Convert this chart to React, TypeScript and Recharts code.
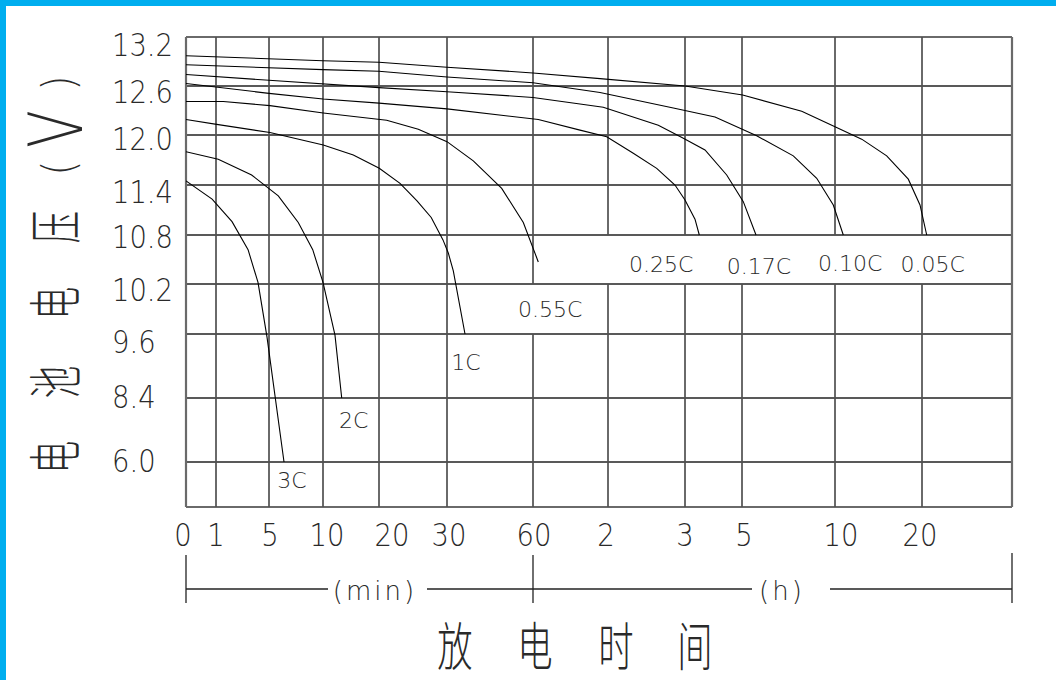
import React from "react";
import { LineChart, Line, XAxis, YAxis, ReferenceLine, LabelList } from "recharts";

// x: discharge time in minutes (0..60 min, then 2h..20h), y: battery voltage (V)
const X_TICKS = [0, 1, 5, 10, 20, 30, 60, 120, 180, 300, 600, 1200];
const X_LABELS = ["0", "1", "5", "10", "20", "30", "60", "2", "3", "5", "10", "20"];
const X_END = 2400;

const Y_TICKS = [13.2, 12.6, 12.0, 11.4, 10.8, 10.2, 9.6, 8.4, 6.0];
const Y_LABELS = ["13.2", "12.6", "12.0", "11.4", "10.8", "10.2", "9.6", "8.4", "6.0"];
const Y_END = 4.3;

const curve3C: [number, number][] = [
  [0, 11.45], [0.87, 11.23], [2.21, 10.96], [3.42, 10.62], [4.17, 10.22], [4.85, 9.54], [6.39, 6.0],
];
const curve2C: [number, number][] = [
  [0, 11.8], [1.17, 11.71], [3.69, 11.52], [5.86, 11.27], [7.71, 10.95], [9.05, 10.62],
  [10.0, 10.22], [12.14, 9.58], [13.34, 8.4],
];
const curve1C: [number, number][] = [
  [0, 12.19], [1.05, 12.13], [5.09, 12.03], [10.05, 11.88], [15.41, 11.76], [20.04, 11.6],
  [23.09, 11.42], [25.59, 11.21], [27.68, 11.01], [29.41, 10.74], [30.45, 10.58], [32.2, 10.36],
  [36.28, 9.6],
];
const curve055C: [number, number][] = [
  [0, 12.41], [1.55, 12.41], [5.09, 12.36], [10.05, 12.27], [21.13, 12.18], [25.78, 12.07],
  [30, 11.92], [39.17, 11.69], [49.08, 11.36], [56.62, 10.95], [64.24, 10.47],
];
const curve025C: [number, number][] = [
  [0, 12.63], [5, 12.51], [10, 12.44], [20, 12.39], [30, 12.32], [64.24, 12.19], [97.6, 12.06],
  [118.96, 11.98], [139.7, 11.78], [157.95, 11.6], [172.2, 11.4], [180, 11.22], [201.05, 10.99],
  [210.1, 10.8],
];
const curve017C: [number, number][] = [
  [0, 12.74], [5, 12.67], [20, 12.58], [30, 12.53], [60, 12.46], [97.6, 12.38], [116.2, 12.34],
  [159.2, 12.12], [178.7, 11.96], [222.1, 11.82], [267.8, 11.52], [304.2, 11.2], [345.2, 10.8],
];
const curve010C: [number, number][] = [
  [0, 12.86], [10, 12.8], [20, 12.78], [30, 12.71], [60, 12.64], [113.6, 12.52], [170.9, 12.33],
  [243.2, 12.22], [347.4, 11.99], [465.5, 11.75], [541, 11.48], [594.5, 11.16], [657.2, 10.8],
];
const curve005C: [number, number][] = [
  [0, 12.97], [10, 12.91], [20, 12.89], [30, 12.83], [60, 12.76], [113.6, 12.69], [180, 12.6],
  [302, 12.49], [492.6, 12.29], [600, 12.1], [784.1, 11.95], [956.6, 11.75], [1105.5, 11.47],
  [1186.2, 11.16], [1262.7, 10.8],
];

// grid lines that are broken where the curve labels sit
const GRID_GAPS = [
  { t: 60, from: 10.2, to: 9.6 },
  { t: 120, from: 10.8, to: 10.2 },
  { t: 180, from: 10.8, to: 10.2 },
  { t: 300, from: 10.8, to: 10.2 },
  { t: 600, from: 10.8, to: 10.2 },
  { t: 1200, from: 10.8, to: 10.2 },
];

// axis layout: pixel offset of each grid line inside the plot
const PLOT_W = 826;
const PLOT_H = 470;
const X_GRID_PX = [0, 30, 83, 137, 193, 261, 347, 422, 499, 556, 649, 736, PLOT_W];
const Y_GRID_PX = [0, 49, 98, 148, 198, 247, 297, 361, 425, PLOT_H];
const X_LABEL_DX = [-3, 0, 1, 4, 13, 2, 1, -2, 0, 2, 6, -2];
const Y_LABEL_DY = [7.5, 5, 3.5, 6, 1.5, 5, 7, -2, -2];

const warp = (v: number, from: number[], to: number[]) => {
  for (let i = 0; i < from.length - 1; i++) {
    const a = from[i];
    const b = from[i + 1];
    if ((v - a) * (v - b) <= 0) return to[i] + ((v - a) / (b - a)) * (to[i + 1] - to[i]);
  }
  return to[to.length - 1];
};
const xPos = (t: number) => warp(t, [...X_TICKS, X_END], X_GRID_PX);
const yPos = (v: number) => warp(v, [...Y_TICKS, Y_END], Y_GRID_PX);

const SERIES = [
  { name: "3C", data: curve3C, dx: 8, dy: 26 },
  { name: "2C", data: curve2C, dx: 12, dy: 30 },
  { name: "1C", data: curve1C, dx: 1, dy: 36 },
  { name: "0.55C", data: curve055C, dx: 12, dy: 55 },
  { name: "0.25C", data: curve025C, dx: -38, dy: 37 },
  { name: "0.17C", data: curve017C, dx: 3, dy: 39 },
  { name: "0.10C", data: curve010C, dx: 7, dy: 36 },
  { name: "0.05C", data: curve005C, dx: 6, dy: 37 },
].map((s) => ({ ...s, points: s.data.map(([t, v]) => ({ x: xPos(t), y: yPos(v) })) }));

const NUM_FONT = '"DejaVu Sans", "Liberation Sans", sans-serif';
const CJK_FONT = '"Noto Sans CJK SC", sans-serif';
const INK = "#2a2a2a";

const xTickPos = X_TICKS.map(xPos);
const yTickPos = Y_TICKS.map(yPos);
const nearest = (arr: number[], v: number) => {
  let best = 0;
  arr.forEach((a, i) => {
    if (Math.abs(a - v) < Math.abs(arr[best] - v)) best = i;
  });
  return best;
};

const XTick = (p: any) => {
  const i = nearest(xTickPos, Number(p.payload?.value));
  return (
    <text
      transform={`translate(${Number(p.x) + X_LABEL_DX[i]} 546) scale(0.87 1)`}
      textAnchor="middle"
      fontFamily={NUM_FONT}
      fontWeight={200}
      fontSize={31.5}
      fill={INK}
    >
      {X_LABELS[i]}
    </text>
  );
};

const YTick = (p: any) => {
  const i = nearest(yTickPos, Number(p.payload?.value));
  return (
    <text
      transform={`translate(112 ${Number(p.y) + Y_LABEL_DY[i] + 11.5}) scale(0.87 1)`}
      textAnchor="start"
      fontFamily={NUM_FONT}
      fontWeight={200}
      fontSize={31.5}
      fill={INK}
    >
      {Y_LABELS[i]}
    </text>
  );
};

const Y_TITLE = [
  { ch: "电", c: 457, fs: 54, sx: 0.6, base: 0.38, cx: 55 },
  { ch: "池", c: 382, fs: 54, sx: 0.6, base: 0.38, cx: 55 },
  { ch: "电", c: 303, fs: 54, sx: 0.6, base: 0.38, cx: 55 },
  { ch: "压", c: 227, fs: 54, sx: 0.6, base: 0.38, cx: 55 },
  { ch: "(", c: 168, fs: 44, sx: 0.9, base: 0.315, cx: 60 },
  { ch: "V", c: 129, fs: 74, sx: 0.75, base: 0.365, cx: 55 },
  { ch: ")", c: 83, fs: 44, sx: 0.9, base: 0.315, cx: 60 },
];
const X_TITLE = [
  { ch: "放", c: 455 },
  { ch: "电", c: 535 },
  { ch: "时", c: 616 },
  { ch: "间", c: 695 },
];

export default function App() {
  const vLines: { x: number; y1: number; y2: number; border: boolean }[] = [];
  [...X_TICKS, X_END].forEach((t) => {
    const x = xPos(t);
    const border = t === 0 || t === X_END;
    const gap = GRID_GAPS.find((g) => g.t === t);
    if (gap) {
      vLines.push({ x, y1: 0, y2: yPos(gap.from), border });
      vLines.push({ x, y1: yPos(gap.to), y2: PLOT_H, border });
    } else {
      vLines.push({ x, y1: 0, y2: PLOT_H, border });
    }
  });
  const hLines = [...Y_TICKS, Y_END].map((v) => ({ y: yPos(v), border: v === Y_TICKS[0] || v === Y_END }));

  return (
    <div style={{ position: "absolute", left: 0, top: 0, width: 1056, height: 680, background: "#fff" }}>
      <LineChart width={1056} height={680} margin={{ top: 37, right: 44, bottom: 133, left: 112 }}>
        <XAxis
          type="number"
          dataKey="x"
          domain={[0, PLOT_W]}
          ticks={xTickPos}
          interval={0}
          allowDataOverflow
          axisLine={false}
          tickLine={false}
          height={40}
          tick={(p: any) => <XTick {...p} />}
        />
        <YAxis
          type="number"
          dataKey="y"
          domain={[0, PLOT_H]}
          reversed
          ticks={yTickPos}
          interval={0}
          allowDataOverflow
          axisLine={false}
          tickLine={false}
          width={74}
          tick={(p: any) => <YTick {...p} />}
        />
        {hLines.map((h, i) => (
          <ReferenceLine
            key={`h${i}`}
            y={h.y}
            stroke={h.border ? "#6a6a6a" : "#222"}
            strokeWidth={h.border ? 2.2 : 1.3}
          />
        ))}
        {vLines.map((v, i) => (
          <ReferenceLine
            key={`v${i}`}
            segment={[
              { x: v.x, y: v.y1 },
              { x: v.x, y: v.y2 },
            ]}
            stroke={v.border ? "#6a6a6a" : "#505050"}
            strokeWidth={v.border ? 2.2 : 1.7}
          />
        ))}
        {SERIES.map((s) => (
          <Line
            key={s.name}
            data={s.points}
            dataKey="y"
            type="linear"
            stroke="#000"
            strokeWidth={1.1}
            dot={false}
            isAnimationActive={false}
          >
            <LabelList
              dataKey="y"
              content={(p: any) =>
                p.index === s.points.length - 1 ? (
                  <text
                    x={Number(p.x) + s.dx}
                    y={Number(p.y) + s.dy}
                    textAnchor="middle"
                    fontFamily={NUM_FONT}
                    fontWeight={200}
                    fontSize={22}
                    fill={INK}
                  >
                    {s.name}
                  </text>
                ) : null
              }
            />
          </Line>
        ))}
      </LineChart>

      <svg
        width={1056}
        height={680}
        style={{ position: "absolute", left: 0, top: 0, pointerEvents: "none" }}
      >
        <rect x={0} y={0} width={1056} height={6} fill="#00AEEF" />
        <rect x={0} y={0} width={6} height={680} fill="#00AEEF" />

        <g stroke="#222" strokeWidth={1.3}>
          <line x1={186} y1={555} x2={186} y2={603} />
          <line x1={533} y1={555} x2={533} y2={603} />
          <line x1={1012} y1={553} x2={1012} y2={603} />
          <line x1={186} y1={589} x2={328} y2={589} />
          <line x1={427} y1={589} x2={752} y2={589} />
          <line x1={830} y1={589} x2={1012} y2={589} />
        </g>
        <text x={375} y={600} textAnchor="middle" fontFamily={NUM_FONT} fontWeight={200} fontSize={26} letterSpacing={3} fill={INK}>
          (min)
        </text>
        <text x={782} y={600} textAnchor="middle" fontFamily={NUM_FONT} fontWeight={200} fontSize={26} letterSpacing={3} fill={INK}>
          (h)
        </text>

        {X_TITLE.map((c, i) => (
          <text
            key={i}
            transform={`translate(${c.c} 666) scale(0.68 1)`}
            textAnchor="middle"
            fontFamily={CJK_FONT}
            fontWeight={300}
            fontSize={52}
            fill={INK}
          >
            {c.ch}
          </text>
        ))}

        {Y_TITLE.map((c, i) => (
          <text
            key={i}
            transform={`translate(${c.cx} ${c.c}) rotate(-90) scale(${c.sx} 1)`}
            x={0}
            y={c.base * c.fs}
            textAnchor="middle"
            fontFamily={/[A-Za-z()]/.test(c.ch) ? NUM_FONT : CJK_FONT}
            fontWeight={/[A-Za-z()]/.test(c.ch) ? 200 : 300}
            fontSize={c.fs}
            fill={INK}
          >
            {c.ch}
          </text>
        ))}
      </svg>
    </div>
  );
}
